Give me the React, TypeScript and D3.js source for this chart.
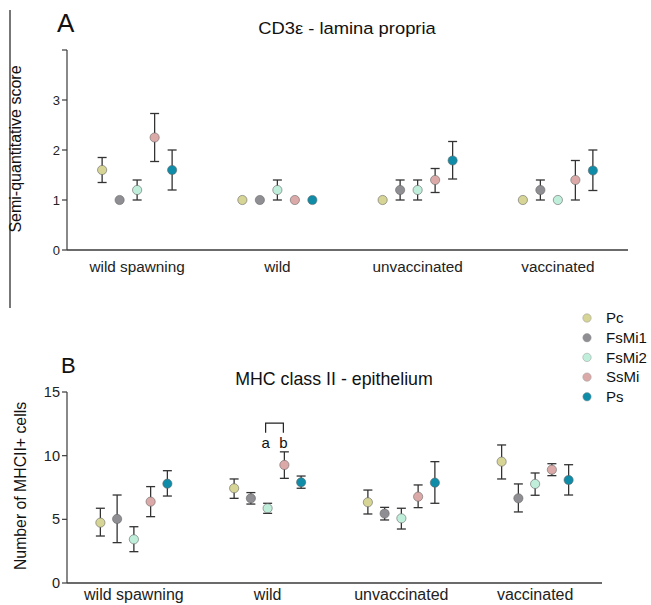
import React from "react";
import * as d3 from "d3";

const categories = ["wild spawning", "wild", "unvaccinated", "vaccinated"];
const series = ["Pc", "FsMi1", "FsMi2", "SsMi", "Ps"];
const colors = ["#d6d596", "#8e8e93", "#bfeedb", "#dbaaa8", "#0e8ca8"];

// panel A: CD3e lamina propria, rows = categories, cols = series
const cd3Mean = [
  [1.6, 1.0, 1.2, 2.25, 1.6],
  [1.0, 1.0, 1.2, 1.0, 1.0],
  [1.0, 1.2, 1.2, 1.4, 1.79],
  [1.0, 1.2, 1.0, 1.4, 1.59],
];
const cd3Low = [
  [1.35, 1.0, 1.0, 1.77, 1.2],
  [1.0, 1.0, 1.0, 1.0, 1.0],
  [1.0, 1.0, 1.0, 1.15, 1.42],
  [1.0, 1.0, 1.0, 1.0, 1.19],
];
const cd3High = [
  [1.85, 1.0, 1.4, 2.73, 2.0],
  [1.0, 1.0, 1.4, 1.0, 1.0],
  [1.0, 1.4, 1.4, 1.63, 2.17],
  [1.0, 1.4, 1.0, 1.79, 2.0],
];
const cd3Ticks = [0, 1, 2, 3, 4];
const cd3TickLabels = ["0", "1", "2", "3", ""];

// panel B: MHC class II epithelium
const mhcMean = [
  [4.74, 5.03, 3.43, 6.39, 7.8],
  [7.44, 6.65, 5.87, 9.27, 7.91],
  [6.34, 5.45, 5.08, 6.78, 7.88],
  [9.53, 6.65, 7.78, 8.9, 8.09],
];
const mhcLow = [
  [3.69, 3.17, 2.46, 5.21, 6.83],
  [6.65, 6.2, 5.47, 8.22, 7.44],
  [5.42, 4.95, 4.24, 5.92, 6.26],
  [8.17, 5.58, 6.89, 8.43, 6.91],
];
const mhcHigh = [
  [5.87, 6.91, 4.42, 7.57, 8.82],
  [8.17, 7.1, 6.26, 10.3, 8.4],
  [7.3, 5.94, 5.87, 7.7, 9.53],
  [10.84, 7.78, 8.64, 9.37, 9.29],
];
const mhcTicks = [0, 5, 10, 15];

const FONT = "'Liberation Sans', Arial, sans-serif";
const AXIS = "#3a3a3a";
const BAR = "#333";

type PanelProps = {
  letter: string;
  title: string;
  yLabel: string;
  mean: number[][];
  low: number[][];
  high: number[][];
  ticks: number[];
  tickLabels: string[];
  yDomain: [number, number];
  top: number;
  bottom: number;
  right: number;
  spread: number;
  letterPos: [number, number, number];
  titlePos: [number, number, number, number];
  yLabelPos: [number, number, number];
  tickFont: number;
  catFont: number;
  catY: number;
  children?: (x: d3.ScaleBand<string>, off: d3.ScalePoint<string>, y: d3.ScaleLinear<number, number>) => React.ReactNode;
};

const Panel = (p: PanelProps) => {
  const left = 67;
  const x = d3.scaleBand().domain(categories).range([left, p.right]).padding(0);
  const off = d3.scalePoint().domain(series).range([-p.spread, p.spread]);
  const y = d3.scaleLinear().domain(p.yDomain).range([p.bottom, p.top]);
  const cap = 4.5;

  return (
    <g>
      <text x={p.letterPos[0]} y={p.letterPos[1]} fontSize={p.letterPos[2]} fontFamily={FONT} fill="#111">{p.letter}</text>
      <text
        transform={`translate(${p.titlePos[0]},${p.titlePos[1]}) scale(${p.titlePos[3]},1)`}
        textAnchor="middle" fontSize={p.titlePos[2]} fontFamily={FONT} fill="#111"
      >{p.title}</text>
      <text
        transform={`translate(${p.yLabelPos[0]},${p.yLabelPos[1]}) rotate(-90)`}
        textAnchor="middle" fontSize={p.yLabelPos[2]} fontFamily={FONT} fill="#111"
      >{p.yLabel}</text>

      {/* y axis */}
      <line x1={left} x2={left} y1={y(p.yDomain[0])} y2={y(p.yDomain[1])} stroke={AXIS} strokeWidth={1.2} />
      {p.ticks.map((t, i) => (
        <g key={t}>
          <line x1={left - 5} x2={left} y1={y(t)} y2={y(t)} stroke={AXIS} strokeWidth={1.2} />
          <text x={left - 7} y={y(t)} dy="0.35em" textAnchor="end" fontSize={p.tickFont} fontFamily={FONT} fill="#222">{p.tickLabels[i]}</text>
        </g>
      ))}

      {/* x axis */}
      <line x1={left} x2={p.right} y1={p.bottom} y2={p.bottom} stroke={AXIS} strokeWidth={1.3} />
      {categories.map((c) => (
        <text key={c} x={x(c)! + x.bandwidth() / 2} y={p.catY} textAnchor="middle" fontSize={p.catFont} fontFamily={FONT} fill="#222">{c}</text>
      ))}

      {/* error bars and points */}
      {categories.map((c, ci) =>
        series.map((s, si) => {
          const cx = x(c)! + x.bandwidth() / 2 + off(s)!;
          const lo = p.low[ci][si];
          const hi = p.high[ci][si];
          return (
            <g key={c + s}>
              {hi > lo && (
                <g stroke={BAR} strokeWidth={1.3}>
                  <line x1={cx} x2={cx} y1={y(lo)} y2={y(hi)} />
                  <line x1={cx - cap} x2={cx + cap} y1={y(lo)} y2={y(lo)} />
                  <line x1={cx - cap} x2={cx + cap} y1={y(hi)} y2={y(hi)} />
                </g>
              )}
              <circle cx={cx} cy={y(p.mean[ci][si])} r={4.6} fill={colors[si]} stroke="#666" strokeWidth={0.6} />
            </g>
          );
        })
      )}
      {p.children && p.children(x, off, y)}
    </g>
  );
};

export default function App() {
  return (
    <div style={{ position: "absolute", left: 0, top: 0 }}>
      <svg width={651} height={605} style={{ display: "block", background: "#fff" }}>
        <line x1={10} x2={10} y1={10} y2={308} stroke="#777" strokeWidth={2} />

        <Panel
          letter="A" title="CD3ε - lamina propria" yLabel="Semi-quantitative score"
          mean={cd3Mean} low={cd3Low} high={cd3High}
          ticks={cd3Ticks} tickLabels={cd3TickLabels} yDomain={[0, 4]}
          top={50} bottom={250} right={628} spread={35}
          letterPos={[57, 32, 26]} titlePos={[347, 34, 17, 1.08]} yLabelPos={[21, 149, 16]}
          tickFont={13} catFont={15.3} catY={272}
        />

        <Panel
          letter="B" title="MHC class II - epithelium" yLabel="Number of MHCII+ cells"
          mean={mhcMean} low={mhcLow} high={mhcHigh}
          ticks={mhcTicks} tickLabels={mhcTicks.map(String)} yDomain={[0, 15]}
          top={392} bottom={583} right={602} spread={33.5}
          letterPos={[61, 373, 22]} titlePos={[334, 385, 17.8, 1]} yLabelPos={[26, 486, 15.8]}
          tickFont={14.5} catFont={16} catY={600}
        >
          {(x, off, y) => {
            const gx = x("wild")! + x.bandwidth() / 2;
            const xa = gx + off("FsMi2")! - 2;
            const xb = gx + off("SsMi")! - 1;
            return (
              <g>
                <path d={`M${xa},${y(11.8)}V${y(12.55)}H${xb}V${y(11.8)}`} fill="none" stroke="#222" strokeWidth={1.2} />
                <text x={xa} y={y(10.6)} textAnchor="middle" fontSize={15} fontFamily={FONT} fill="#111">a</text>
                <text x={xb} y={y(10.6)} textAnchor="middle" fontSize={15} fontFamily={FONT} fill="#111">b</text>
              </g>
            );
          }}
        </Panel>

        {/* legend */}
        {series.map((s, i) => (
          <g key={s} transform={`translate(587,${318 + i * 19.7})`}>
            <circle r={4.2} fill={colors[i]} stroke="#999" strokeWidth={0.5} />
            <text x={19} dy="0.35em" fontSize={15} fontFamily={FONT} fill="#111">{s}</text>
          </g>
        ))}
      </svg>
    </div>
  );
}
